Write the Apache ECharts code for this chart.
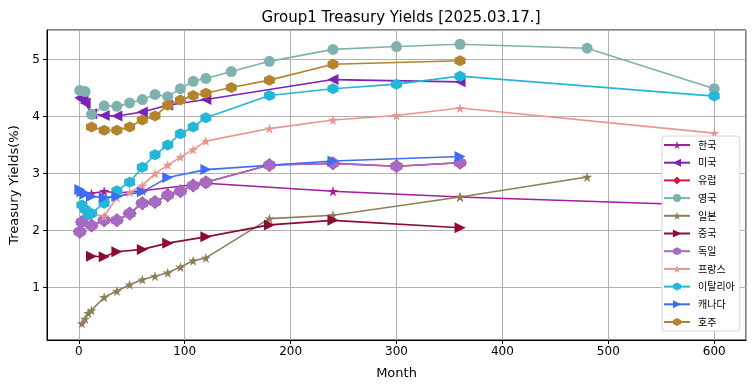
<!DOCTYPE html>
<html>
<head>
<meta charset="utf-8">
<script src="https://cdn.jsdelivr.net/npm/echarts@6.0.0/dist/echarts.min.js"></script>
<style>
html,body{margin:0;padding:0;background:#fff;}
#chart{width:755px;height:391px;}
</style>
</head>
<body>
<div id="chart"></div>
<script>
// ---- data (months, yields %) ----
const krMonths = [12, 24, 36, 60, 120, 240, 360, 600];
const krVals   = [2.65, 2.69, 2.66, 2.70, 2.83, 2.69, 2.59, 2.44];

const usMonths = [1, 2, 3, 4, 6, 12, 24, 36, 60, 84, 120, 240, 360];
const usVals   = [4.33, 4.32, 4.31, 4.29, 4.24, 4.05, 4.02, 4.01, 4.08, 4.20, 4.30, 4.65, 4.61];

const euMonths = [1, 3, 12, 24, 36, 48, 60, 72, 84, 96, 108, 120, 180, 240, 300, 360];
const euVals   = [1.98, 2.15, 2.09, 2.18, 2.18, 2.30, 2.48, 2.50, 2.62, 2.69, 2.79, 2.85, 3.15, 3.18, 3.13, 3.19];

const ukMonths = [1, 6, 12, 24, 36, 48, 60, 72, 84, 96, 108, 120, 144, 180, 240, 300, 360, 480, 600];
const ukVals   = [4.46, 4.44, 4.04, 4.19, 4.18, 4.24, 4.30, 4.39, 4.35, 4.49, 4.62, 4.67, 4.79, 4.97, 5.18, 5.23, 5.27, 5.20, 4.49];

const jpMonths = [3, 6, 9, 12, 24, 36, 48, 60, 72, 84, 96, 108, 120, 180, 240, 360, 480];
const jpVals   = [0.37, 0.45, 0.55, 0.60, 0.83, 0.94, 1.05, 1.14, 1.20, 1.26, 1.36, 1.47, 1.52, 2.21, 2.27, 2.59, 2.94];

const cnMonths = [12, 24, 36, 60, 84, 120, 180, 240, 360];
const cnVals   = [1.55, 1.54, 1.63, 1.67, 1.78, 1.89, 2.10, 2.18, 2.05];

const deMonths = [1, 3, 12, 24, 36, 48, 60, 72, 84, 96, 108, 120, 180, 240, 300, 360];
const deVals   = [1.98, 2.15, 2.09, 2.18, 2.18, 2.30, 2.48, 2.50, 2.62, 2.69, 2.79, 2.85, 3.15, 3.18, 3.13, 3.19];

const frMonths = [3, 6, 12, 24, 36, 48, 60, 72, 84, 96, 108, 120, 180, 240, 300, 360, 600];
const frVals   = [2.45, 2.38, 2.30, 2.25, 2.58, 2.67, 2.79, 3.00, 3.15, 3.29, 3.42, 3.57, 3.79, 3.94, 4.02, 4.15, 3.71];

const itMonths = [3, 6, 9, 12, 24, 36, 48, 60, 72, 84, 96, 108, 120, 180, 240, 300, 360, 600];
const itVals   = [2.45, 2.37, 2.28, 2.30, 2.48, 2.70, 2.85, 3.11, 3.33, 3.50, 3.70, 3.82, 3.98, 4.37, 4.49, 4.57, 4.71, 4.36];

const caMonths = [1, 3, 6, 12, 24, 36, 60, 84, 120, 240, 360];
const caVals   = [2.72, 2.68, 2.64, 2.60, 2.58, 2.60, 2.68, 2.93, 3.07, 3.22, 3.30];

const auMonths = [12, 24, 36, 48, 60, 72, 84, 96, 108, 120, 144, 180, 240, 360];
const auVals   = [3.82, 3.76, 3.76, 3.82, 3.94, 4.01, 4.20, 4.29, 4.37, 4.41, 4.51, 4.64, 4.92, 4.98];

const seriesNames = ['한국', '미국', '유럽', '영국', '일본', '중국', '독일', '프랑스', '이탈리아', '캐나다', '호주'];

// ---- styling ----
const STAR = 'path://M50,0 L61.2,34.5 L97.6,34.5 L68.2,55.9 L79.4,90.5 L50,69.1 L20.6,90.5 L31.8,55.9 L2.4,34.5 L38.8,34.5 Z';
const HEX = 'path://M50,0 L93.3,25 L93.3,75 L50,100 L6.7,75 L6.7,25 Z';

function mk(name, months, vals, color, symbol, size, rotate) {
  return {
    type: 'line',
    name: name,
    data: months.map((m, i) => [m, vals[i]]),
    symbol: symbol,
    symbolSize: size,
    symbolRotate: rotate || 0,
    showSymbol: true,
    showAllSymbol: true,
    lineStyle: { color: color, width: 1.6 },
    itemStyle: { color: color, borderWidth: 0 },
    emphasis: { disabled: true },
    animation: false
  };
}

const series = [
  mk('한국', krMonths, krVals, '#a21d9b', STAR, 10),
  mk('미국', usMonths, usVals, '#7b22b4', 'triangle', 11, 90),
  mk('유럽', euMonths, euVals, '#dc143c', 'diamond', 14),
  mk('영국', ukMonths, ukVals, '#7fb2ae', 'circle', 11),
  mk('일본', jpMonths, jpVals, '#8c7f58', STAR, 10),
  mk('중국', cnMonths, cnVals, '#8b0a36', 'triangle', 11, -90),
  mk('독일', deMonths, deVals, '#a56ac4', HEX, 12),
  mk('프랑스', frMonths, frVals, '#e6968f', STAR, 10),
  mk('이탈리아', itMonths, itVals, '#22b6d8', HEX, 11),
  mk('캐나다', caMonths, caVals, '#3e6cf2', 'triangle', 11, -90),
  mk('호주', auMonths, auVals, '#b3842c', HEX, 11)
];

const chart = echarts.init(document.getElementById('chart'), null, { renderer: 'canvas' });
const FONT = 'DejaVu Sans, Noto Sans CJK KR, sans-serif';

chart.setOption({
  backgroundColor: '#ffffff',
  animation: false,
  title: {
    text: 'Group1 Treasury Yields [2025.03.17.]',
    left: 396, top: 6, textAlign: 'center',
    textStyle: { fontFamily: FONT, fontSize: 15, fontWeight: 'normal', color: '#000' }
  },
  grid: {
    left: 47, right: 9, top: 30, bottom: 51,
    show: true, borderColor: '#000', borderWidth: 1, backgroundColor: 'transparent'
  },
  legend: {
    data: seriesNames,
    orient: 'vertical',
    left: 662, top: 136,
    padding: [4, 5, 4, 1],
    itemWidth: 26, itemHeight: 10, itemGap: 7.7,
    backgroundColor: '#ffffff',
    borderColor: '#d6d6d6', borderWidth: 1, borderRadius: 3,
    textStyle: { fontFamily: 'Noto Sans CJK KR, DejaVu Sans', fontSize: 10, color: '#000', lineHeight: 10, padding: [0, 0, 0, 3] }
  },
  xAxis: {
    type: 'value',
    min: -30, max: 630,
    name: 'Month', nameLocation: 'middle', nameGap: 27,
    nameTextStyle: { fontFamily: FONT, fontSize: 13, color: '#000' },
    axisLine: { show: true, onZero: false, lineStyle: { color: '#000', width: 1 } },
    axisTick: { show: true, inside: false, length: 4, lineStyle: { color: '#000' } },
    axisLabel: { fontFamily: FONT, fontSize: 12, color: '#000', margin: 6, showMinLabel: false, showMaxLabel: false },
    splitLine: { show: true, lineStyle: { color: '#b0b0b0', width: 1 } }
  },
  yAxis: {
    type: 'value',
    min: 0.08, max: 5.52,
    name: 'Treasury Yields(%)', nameLocation: 'middle', nameGap: 25, nameRotate: 90,
    nameTextStyle: { fontFamily: FONT, fontSize: 13, color: '#000' },
    axisLine: { show: true, onZero: false, lineStyle: { color: '#000', width: 1 } },
    axisTick: { show: true, inside: false, length: 4, lineStyle: { color: '#000' } },
    axisLabel: { fontFamily: FONT, fontSize: 12, color: '#000', margin: 7, showMinLabel: false, showMaxLabel: false },
    splitLine: { show: true, lineStyle: { color: '#b0b0b0', width: 1 } }
  },
  series: series
});
</script>
</body>
</html>
